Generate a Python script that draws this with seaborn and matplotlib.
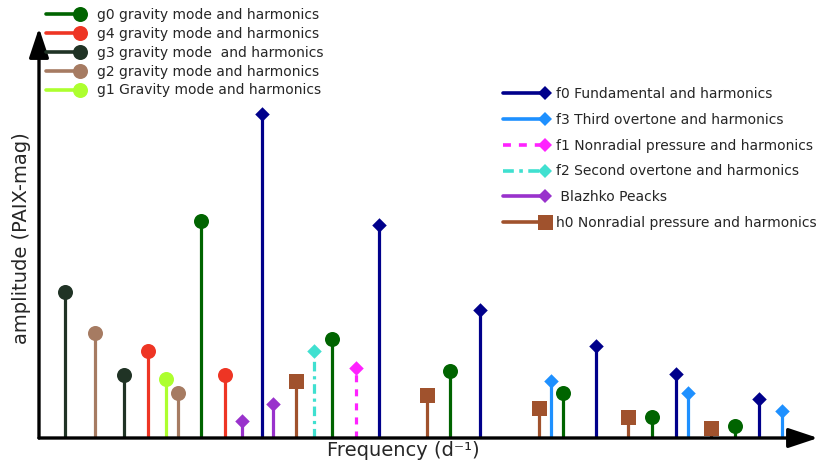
import numpy as np
import pandas as pd
import matplotlib
matplotlib.use("Agg")
import matplotlib.pyplot as plt
from matplotlib.lines import Line2D
from matplotlib.legend_handler import HandlerLine2D
import seaborn as sns

# ---- data (frequency offset, amplitude) ----
g0_freq = [162, 293, 411, 524, 613, 696]
g0_amp = [217, 99, 67, 45, 21, 12]
g4_freq = [109, 186]
g4_amp = [87, 63]
g3_freq = [26, 85]
g3_amp = [146, 63]
g2_freq = [56, 139]
g2_amp = [105, 45]
g1_freq = [127]
g1_amp = [59]
f0_freq = [223, 340, 441, 557, 637, 720]
f0_amp = [324, 213, 128, 92, 64, 39]
f3_freq = [512, 649, 743]
f3_amp = [57, 45, 27]
f1_freq = [317]
f1_amp = [70]
f2_freq = [275]
f2_amp = [87]
bl_freq = [203, 234]
bl_amp = [17, 34]
h0_freq = [257, 388, 500, 589, 672]
h0_amp = [57, 43, 30, 21, 10]

left_labels = ["g0 gravity mode and harmonics",
               "g4 gravity mode and harmonics",
               "g3 gravity mode  and harmonics",
               "g2 gravity mode and harmonics",
               "g1 Gravity mode and harmonics"]
right_labels = ["f0 Fundamental and harmonics",
                "f3 Third overtone and harmonics",
                "f1 Nonradial pressure and harmonics",
                "f2 Second overtone and harmonics",
                " Blazhko Peacks",
                "h0 Nonradial pressure and harmonics"]

sns.set_theme(style="white")
plt.rcParams['font.family'] = ['DejaVu Sans']


class EndMarkerHandler(HandlerLine2D):
    """Legend handle: a line with the marker at its right end (like a stem)."""
    def create_artists(self, legend, orig_handle, xdescent, ydescent,
                       width, height, fontsize, trans):
        y = height / 2 - ydescent
        x0, x1 = -xdescent, -xdescent + width
        line = Line2D([x0, x1], [y, y])
        line.update_from(orig_handle)
        line.set_marker("None")
        mk = Line2D([x1], [y])
        mk.update_from(orig_handle)
        mk.set_linestyle("None")
        line.set_transform(trans)
        mk.set_transform(trans)
        return [line, mk]


# series: (freq, amp, color, marker, markersize(pt), linestyle)
series = [
    (g0_freq, g0_amp, "#006400", "o", 10.8, "-"),
    (g4_freq, g4_amp, "#EE3524", "o", 10.8, "-"),
    (g3_freq, g3_amp, "#203325", "o", 10.8, "-"),
    (g2_freq, g2_amp, "#A67B62", "o", 10.8, "-"),
    (g1_freq, g1_amp, "#ADFF2F", "o", 10.8, "-"),
    (f0_freq, f0_amp, "#00008B", "D", 7.4, "-"),
    (f3_freq, f3_amp, "#1E90FF", "D", 7.4, "-"),
    (f1_freq, f1_amp, "#FF22FF", "D", 7.4, (0, (2.2, 2.2))),
    (f2_freq, f2_amp, "#40E0D0", "D", 7.4, (0, (3, 1.5, 1, 1.5))),
    (bl_freq, bl_amp, "#9932CC", "D", 7.4, "-"),
    (h0_freq, h0_amp, "#A0522D", "s", 10.8, "-"),
]

fig = plt.figure(figsize=(8.3, 4.67), dpi=100)
ax = fig.add_axes([39 / 830, 29 / 467, 779 / 830, 410 / 467])
ax.set_xlim(0, 779)
ax.set_ylim(0, 410)
for s in ax.spines.values():
    s.set_visible(False)
ax.set_xticks([])
ax.set_yticks([])

handles = []
for fr, am, col, mk, ms, ls in series:
    ax.vlines(fr, 0, am, colors=col, linestyles=ls, linewidth=2.3, zorder=2)
    df = pd.DataFrame({"freq": fr, "amp": am})
    sns.scatterplot(data=df, x="freq", y="amp", ax=ax, color=col, marker=mk,
                    s=ms ** 2, linewidth=0, zorder=3, legend=False)
    handles.append(Line2D([0, 1], [0, 0], color=col, linestyle=ls,
                          linewidth=2.6, marker=mk, markersize=ms,
                          markeredgewidth=0))
ax.set_xlabel("")
ax.set_ylabel("")

# axis arrows
for end in [(1.0, 0), (0, 1.0)]:
    ax.annotate("", xy=end, xytext=(0, 0), xycoords="axes fraction",
                textcoords="axes fraction", annotation_clip=False,
                arrowprops=dict(arrowstyle="-|>,head_length=1.2,head_width=0.4",
                                mutation_scale=15, lw=2.4, color="black",
                                shrinkA=0, shrinkB=0))

fig.text(403 / 830, 1 - 451 / 467, "Frequency (d⁻¹)", fontsize=14,
         ha="center", va="center")
fig.text(22 / 830, 1 - 238 / 467, "amplitude (PAIX-mag)", fontsize=14,
         ha="center", va="center", rotation=90)

hmap = {Line2D: EndMarkerHandler()}
leg1 = fig.legend(handles[:5], left_labels, loc="upper left",
                  bbox_to_anchor=(46 / 830, 1 - 8 / 467), frameon=False,
                  fontsize=10, borderpad=0, borderaxespad=0,
                  handlelength=2.45, handletextpad=1.2, labelspacing=0.35,
                  handler_map=hmap)
leg2 = fig.legend(handles[5:], right_labels, loc="upper left",
                  bbox_to_anchor=(503 / 830, 1 - 87 / 467), frameon=False,
                  fontsize=10, borderpad=0, borderaxespad=0,
                  handlelength=3.0, handletextpad=0.8, labelspacing=0.85,
                  handler_map=hmap)

fig.savefig("out.png", dpi=100)
